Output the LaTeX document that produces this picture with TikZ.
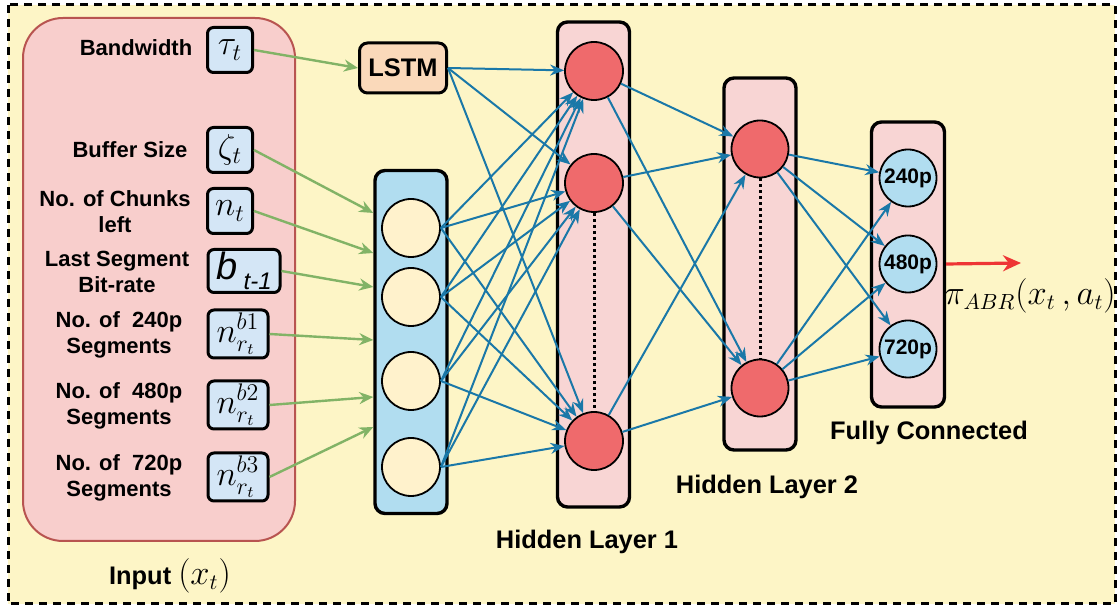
\documentclass[tikz,border=0pt]{standalone}
\usepackage{amsmath}
\usepackage{fontspec}
\setmainfont{Liberation Sans}
\usepackage{tikz}
\usepackage{xcolor}
\usetikzlibrary{arrows.meta}

\definecolor{bgyellow}{HTML}{FDF5C6}
\definecolor{inpink}{HTML}{F8CECC}
\definecolor{inborder}{HTML}{B85450}
\definecolor{valblue}{HTML}{D4E6F6}
\definecolor{lstmpeach}{HTML}{FAD9BA}
\definecolor{layerblue}{HTML}{B1DDF0}
\definecolor{cellyellow}{HTML}{FFF2CC}
\definecolor{layerpink}{HTML}{F8D5D4}
\definecolor{unitred}{HTML}{EF6A6C}
\definecolor{linkblue}{HTML}{1A78A8}
\definecolor{feedgreen}{HTML}{82B366}
\definecolor{outred}{HTML}{EE3535}

\begin{document}
\begin{tikzpicture}[x=0.5pt,y=0.5pt]
\tikzstyle{every node}+=[inner sep=0pt]
\tikzstyle{lbl}=[font=\fontsize{11}{13}\selectfont\bfseries, align=center]
\tikzstyle{title}=[font=\fontsize{12.7}{15}\selectfont\bfseries]
\tikzstyle{valbox}=[draw=black, line width=1.5pt, fill=valblue, rounded corners=3pt, minimum width=22.5pt, minimum height=22.5pt, font=\fontsize{17}{17}\selectfont]
\tikzstyle{layer}=[draw=black, line width=1.7pt, rounded corners=5pt, minimum width=36pt]
\tikzstyle{cell}=[circle, draw=black, line width=0.9pt, minimum size=29pt]
\tikzstyle{feed}=[-{Stealth[length=7pt,width=6pt]}, draw=feedgreen, line width=1.2pt]
\tikzstyle{link}=[-{Stealth[length=7pt,width=5.5pt]}, draw=linkblue, line width=1pt]
\useasboundingbox (0,0) rectangle (1119,-608);
% frame and input panel
\draw [fill=bgyellow, line width=1.5pt, dash pattern=on 4pt off 3pt] (8,-5) rectangle (1115,-604);
\draw [draw=inborder, fill=inpink, line width=1pt, rounded corners=20pt] (23,-18) rectangle (295,-541);
\node [title] (lin) at (170,-576) {Input {\normalfont\fontsize{16}{16}\selectfont$(x_t)$}};
% input features
\node [lbl] (lbw) at (136,-48) {Bandwidth};
\node [valbox] (bw) at (230,-50) {$\tau_t$};
\node [lbl] (lbuf) at (130,-150) {Buffer Size};
\node [valbox] (buf) at (230,-150) {$\zeta_t$};
\node [lbl] (lchunk) at (115,-212) {No. of Chunks\\left};
\node [valbox] (chunk) at (230,-211) {$n_t$};
\node [lbl] (llast) at (117,-272) {Last Segment\\Bit-rate};
\node [valbox, minimum width=36pt, minimum height=21.5pt, font=\fontsize{19}{19}\selectfont] (last) at (244,-271) {\textit{b}\,\raisebox{-5pt}{\fontsize{12}{12}\selectfont\itshape t-1}};
\node [lbl] (lseg1) at (119,-335) {No. of~~240p\\Segments};
\node [valbox, minimum width=30pt, minimum height=24pt] (seg1) at (238,-334) {$n_{r_t}^{b1}$};
\node [lbl] (lseg2) at (119,-406) {No. of~~480p\\Segments};
\node [valbox, minimum width=30pt, minimum height=24pt] (seg2) at (238,-405) {$n_{r_t}^{b2}$};
\node [lbl] (lseg3) at (119,-478) {No. of~~720p\\Segments};
\node [valbox, minimum width=30pt, minimum height=24pt] (seg3) at (238,-477) {$n_{r_t}^{b3}$};
% lstm and input layer
\node [draw=black, line width=1.5pt, fill=lstmpeach, rounded corners=4pt, minimum width=43.5pt, minimum height=25pt, title] (lstm) at (403,-68) {LSTM};
\node [layer, fill=layerblue, minimum height=171.5pt] (inl) at (411,-342) {};
\node [cell, fill=cellyellow] (i1) at (411,-228) {};
\node [cell, fill=cellyellow] (i2) at (411,-297) {};
\node [cell, fill=cellyellow] (i3) at (411,-381) {};
\node [cell, fill=cellyellow] (i4) at (411,-467) {};
% hidden layer 1
\node [layer, fill=layerpink, minimum height=242.5pt] (hl1) at (593.5,-264.5) {};
\node [cell, fill=unitred] (h11) at (594,-71) {};
\node [cell, fill=unitred] (h12) at (594,-183) {};
\node [cell, fill=unitred] (h13) at (594,-441) {};
\draw [line width=1.5pt, dash pattern=on 1.5pt off 1.5pt] (h12) -- (h13);
\node [title] (lh1) at (587,-542) {Hidden Layer 1};
% hidden layer 2
\node [layer, fill=layerpink, minimum height=186pt] (hl2) at (760,-264) {};
\node [cell, fill=unitred, minimum size=28.5pt] (h21) at (760,-149) {};
\node [cell, fill=unitred, minimum size=28.5pt] (h22) at (760,-388) {};
\draw [line width=1.5pt, dash pattern=on 1.5pt off 1.5pt] (h21) -- (h22);
\node [title] (lh2) at (767,-487) {Hidden Layer 2};
% fully connected output
\node [layer, fill=layerpink, minimum height=142.5pt, minimum width=36.5pt] (fc) at (908,-264.5) {};
\node [cell, fill=layerblue, minimum size=28.5pt, font=\fontsize{10.5}{12}\selectfont\bfseries] (o1) at (908,-178) {240p};
\node [cell, fill=layerblue, minimum size=28.5pt, font=\fontsize{10.5}{12}\selectfont\bfseries] (o2) at (908,-264) {480p};
\node [cell, fill=layerblue, minimum size=28.5pt, font=\fontsize{10.5}{12}\selectfont\bfseries] (o3) at (908,-349) {720p};
\node [title] (lfc) at (929,-433) {Fully Connected};
\coordinate (pol) at (1021,-263);
\draw [-{Stealth[length=9pt,width=8pt]}, draw=outred, line width=1.6pt] (o2.east -| fc.east) -- (pol);
\node [font=\fontsize{16}{16}\selectfont] (lpol) at (1030,-296) {$\pi_{ABR}(x_t\,, a_t)$};
% features into the network
\draw [feed] (bw.east) -- (lstm.west);
\draw [feed] (buf.east) -- ([yshift=64.5pt]inl.west);
\draw [feed] (chunk.east) -- ([yshift=44.5pt]inl.west);
\draw [feed] (last.east) -- ([yshift=27.5pt]inl.west);
\draw [feed] (seg1.east) -- ([yshift=1pt]inl.west);
\draw [feed] (seg2.east) -- ([yshift=-27.5pt]inl.west);
\draw [feed] (seg3.east) -- ([yshift=-42.5pt]inl.west);
% into hidden layer 1
\draw [link] (lstm.east) -- (h11);
\draw [link] (lstm.east) -- (h12);
\draw [link] (lstm.east) -- (h13);
\draw [link] (i1.east) -- (h11);
\draw [link] (i1.east) -- (h12);
\draw [link] (i1.east) -- (h13);
\draw [link] (i2.east) -- (h11);
\draw [link] (i2.east) -- (h12);
\draw [link] (i2.east) -- (h13);
\draw [link] (i3.east) -- (h11);
\draw [link] (i3.east) -- (h12);
\draw [link] (i3.east) -- (h13);
\draw [link] (i4.east) -- (h11);
\draw [link] (i4.east) -- (h12);
\draw [link] (i4.east) -- (h13);
% into hidden layer 2
\draw [link] (h11) -- (h21);
\draw [link] (h11) -- (h22);
\draw [link] (h12) -- (h21);
\draw [link] (h12) -- (h22);
\draw [link] (h13) -- (h21);
\draw [link] (h13) -- (h22);
% into the output units
\draw [link] (h21) -- (o1);
\draw [link] (h21) -- (o2);
\draw [link] (h21) -- (o3);
\draw [link] (h22) -- (o1);
\draw [link] (h22) -- (o2);
\draw [link] (h22) -- (o3);
\end{tikzpicture}
\end{document}
